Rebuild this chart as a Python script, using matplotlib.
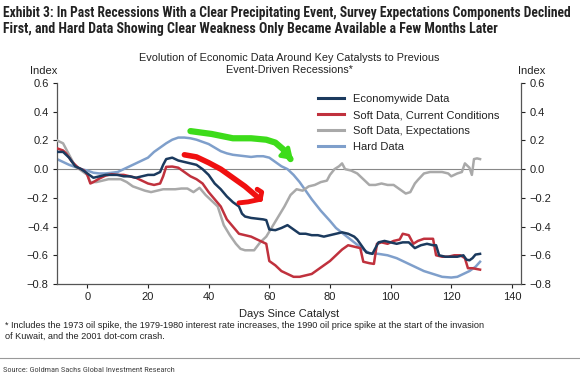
import matplotlib
matplotlib.use("Agg")
import matplotlib.pyplot as plt
from matplotlib import font_manager as fm

names = {f.name for f in fm.fontManager.ttflist}
NARROW = 'DejaVu Sans'
for cand in ['Liberation Sans Narrow', 'Roboto Condensed', 'Open Sans Condensed', 'Noto Sans Condensed']:
    if cand in names:
        NARROW = cand
        break
plt.rcParams['font.family'] = ['Liberation Sans', 'DejaVu Sans']

# ---------------- data ----------------
econ_days = [-10, -8, -6, -4, -2, 0, 2, 4, 6, 8, 10, 12, 14, 16, 18, 20, 22, 24, 25, 26, 28, 30, 32, 34, 36, 38,
             40, 42, 44, 46, 48, 50, 51, 52, 54, 56, 58, 59, 60, 62, 64, 66, 68, 70, 72, 74, 76, 78, 80, 82, 84,
             86, 88, 89, 90, 92, 94, 95, 96, 98, 100, 102, 104, 106, 108, 110, 112, 114, 115, 116, 118, 120, 122,
             124, 125, 126, 127, 128, 129.5]
econ_vals = [0.12, 0.12, 0.08, 0.02, 0.0, -0.03, -0.06, -0.05, -0.04, -0.04, -0.04, -0.05, -0.05, -0.06, -0.05,
             -0.04, -0.04, -0.02, 0.03, 0.07, 0.08, 0.06, 0.05, 0.04, 0.03, 0.0, -0.04, -0.10, -0.14, -0.19, -0.23,
             -0.26, -0.31, -0.33, -0.34, -0.345, -0.35, -0.355, -0.42, -0.425, -0.41, -0.39, -0.42, -0.45, -0.45,
             -0.46, -0.46, -0.47, -0.46, -0.45, -0.44, -0.45, -0.47, -0.49, -0.52, -0.58, -0.59, -0.55, -0.51,
             -0.50, -0.51, -0.52, -0.51, -0.51, -0.55, -0.53, -0.52, -0.53, -0.53, -0.60, -0.61, -0.61, -0.61,
             -0.60, -0.63, -0.635, -0.62, -0.595, -0.59]

cur_days = [-10, -8, -7, -5, -3, -1, 0, 1, 2, 4, 6, 8, 10, 12, 14, 16, 18, 20, 22, 24, 25, 26, 28, 30, 32, 34, 36,
            38, 40, 42, 44, 46, 48, 50, 52, 54, 56, 58, 59, 60, 62, 64, 66, 68, 70, 72, 74, 76, 78, 80, 82, 84, 86,
            88, 90, 91, 93, 94.5, 95.5, 97, 99, 101, 103, 104, 106, 107.5, 109, 111, 114, 115, 117, 119, 121, 123,
            124.5, 125.5, 127, 129.5]
cur_vals = [0.145, 0.13, 0.11, 0.05, 0.01, -0.01, -0.04, -0.10, -0.09, -0.065, -0.045, -0.035, -0.04, -0.04,
            -0.05, -0.06, -0.08, -0.10, -0.11, -0.10, -0.05, 0.016, 0.018, 0.01, -0.02, -0.05, -0.07, -0.10,
            -0.16, -0.21, -0.26, -0.35, -0.40, -0.45, -0.46, -0.47, -0.49, -0.51, -0.52, -0.64, -0.67, -0.71,
            -0.73, -0.75, -0.75, -0.74, -0.73, -0.70, -0.67, -0.64, -0.60, -0.56, -0.53, -0.54, -0.55, -0.645,
            -0.655, -0.66, -0.52, -0.51, -0.52, -0.50, -0.49, -0.45, -0.46, -0.52, -0.50, -0.485, -0.485, -0.60,
            -0.61, -0.61, -0.60, -0.60, -0.62, -0.69, -0.69, -0.70]

exp_days = [-10, -9, -8, -6, -4, -2, 0, 1, 3, 5, 7, 9, 11, 13, 15, 17, 19, 21, 23, 25, 27, 29, 31, 33, 35, 37, 39,
            41, 43, 45, 47, 49, 50.5, 52, 55, 57, 59, 61, 63, 65, 67, 69, 71, 73, 75, 77, 79, 80, 81.5, 83, 84, 85,
            87, 89, 91, 93, 95, 97, 99, 101, 103, 105, 106.5, 108, 109, 111, 113, 115, 117, 119, 120, 122, 123.5,
            124.5, 126, 126.8, 127.5, 128.5, 129.5]
exp_vals = [0.20, 0.19, 0.18, 0.10, 0.02, -0.01, -0.04, -0.09, -0.09, -0.08, -0.07, -0.07, -0.07, -0.09, -0.12,
            -0.135, -0.15, -0.16, -0.15, -0.14, -0.14, -0.14, -0.135, -0.135, -0.16, -0.13, -0.18, -0.22, -0.26,
            -0.39, -0.46, -0.52, -0.555, -0.565, -0.565, -0.51, -0.47, -0.40, -0.33, -0.26, -0.18, -0.14, -0.15,
            -0.12, -0.11, -0.09, -0.08, -0.04, 0.0, 0.02, 0.04, 0.0, -0.01, -0.03, -0.07, -0.11, -0.11, -0.10,
            -0.11, -0.11, -0.14, -0.17, -0.16, -0.10, -0.075, -0.03, -0.02, -0.02, -0.02, -0.03, -0.05, -0.03,
            -0.02, 0.04, 0.01, -0.04, 0.07, 0.075, 0.07]

hard_days = [-10, -8, -6, -4, -2, 0, 2, 4, 6, 8, 10, 12, 14, 16, 18, 20, 22, 24, 26, 28, 30, 32, 34, 36, 38, 40,
             42, 44, 46, 48, 50, 52, 54, 56, 58, 60, 62, 64, 66, 68, 70, 72, 74, 77, 80, 82, 85, 88, 91, 93, 96,
             99, 102, 105, 108, 111, 114, 117, 120, 122, 124, 126, 128, 129.5]
hard_vals = [0.07, 0.05, 0.03, 0.015, 0.0, -0.01, -0.025, -0.03, -0.03, -0.025, -0.02, 0.0, 0.02, 0.04, 0.06,
             0.08, 0.12, 0.15, 0.18, 0.205, 0.22, 0.22, 0.215, 0.205, 0.19, 0.175, 0.15, 0.125, 0.11, 0.10, 0.095,
             0.09, 0.085, 0.09, 0.09, 0.08, 0.05, 0.02, 0.0, -0.04, -0.09, -0.15, -0.21, -0.29, -0.36, -0.41,
             -0.46, -0.51, -0.56, -0.585, -0.59, -0.60, -0.62, -0.65, -0.68, -0.71, -0.73, -0.75, -0.755, -0.75,
             -0.73, -0.71, -0.68, -0.645]

series_labels = ['Economywide Data', 'Soft Data, Current Conditions', 'Soft Data, Expectations', 'Hard Data']
series_colors = ['#1b3a5e', '#c0313d', '#a9a9a9', '#7f9fcb']

y_ticks = [0.6, 0.4, 0.2, 0.0, -0.2, -0.4, -0.6, -0.8]
x_ticks = [0, 20, 40, 60, 80, 100, 120, 140]

# hand-drawn annotation strokes (data coordinates)
green_x = [34, 41, 48, 54, 59, 62, 64.5, 67]
green_y = [0.265, 0.245, 0.215, 0.215, 0.205, 0.185, 0.14, 0.07]
red_x = [32, 36, 40, 44, 48, 52, 57]
red_y = [0.10, 0.085, 0.045, 0.0, -0.06, -0.12, -0.21]

# ---------------- figure ----------------
W, H = 580, 379
fig = plt.figure(figsize=(W / 100, H / 100), dpi=100)
L, R, T, B = 57, 521, 83, 284
ax = fig.add_axes([L / W, 1 - B / H, (R - L) / W, (B - T) / H])

ax.axhline(0, color='#888888', lw=0.8, zorder=1)
ax.plot(hard_days, hard_vals, color=series_colors[3], lw=1.8, zorder=2)
ax.plot(exp_days, exp_vals, color=series_colors[2], lw=1.8, zorder=3)
ax.plot(cur_days, cur_vals, color=series_colors[1], lw=1.8, zorder=4)
ax.plot(econ_days, econ_vals, color=series_colors[0], lw=1.8, zorder=5)

# annotations
ax.plot(green_x, green_y, color='#3ddc1a', lw=4.5, solid_capstyle='round', zorder=6)
ax.annotate('', xy=(68.5, 0.05), xytext=(64.5, 0.13),
            arrowprops=dict(arrowstyle='-|>,head_length=0.6,head_width=0.4', color='#3ddc1a', lw=3), zorder=6)
ax.plot(red_x, red_y, color='#f01010', lw=4, solid_capstyle='round', zorder=6)
ax.plot([56, 57.5, 57], [-0.14, -0.16, -0.21], color='#f01010', lw=3.5, solid_capstyle='round', zorder=6)
ax.plot([50, 53, 57], [-0.235, -0.228, -0.21], color='#f01010', lw=3.5, solid_capstyle='round', zorder=6)

ax.set_xlim(-10, 143)
ax.set_ylim(-0.8, 0.6)
ax.set_xticks(x_ticks)
ax.set_yticks(y_ticks)
ax.set_yticklabels([f'{v:.1f}'.replace('-', '\u2212') if v != 0 else '0.0' for v in y_ticks])
ax.tick_params(axis='both', labelsize=8, colors='#222222', length=3, width=0.8, pad=3)
ax.tick_params(axis='y', right=True, labelright=True, direction='out')
for s in ['left', 'right', 'bottom']:
    ax.spines[s].set_color('#555555')
    ax.spines[s].set_linewidth(0.9)
ax.spines['top'].set_visible(False)
ax.set_xlabel('Days Since Catalyst', fontsize=8, labelpad=5, color='#222222')

handles = [plt.Line2D([], [], color=c, lw=2.2) for c in series_colors]
leg = ax.legend(handles, series_labels, loc='upper left', bbox_to_anchor=((318 - L) / (R - L), (B - 94) / (B - T)),
                frameon=False, fontsize=8, handlelength=2.3, handletextpad=0.85, labelspacing=0.55,
                borderaxespad=0, borderpad=0)
for t in leg.get_texts():
    t.set_color('#222222')

# text
renderer = fig.canvas.get_renderer()


def fit_text(x, y, s, target_w, size, **kw):
    t = fig.text(x / W, 1 - y / H, s, fontsize=size, **kw)
    w = t.get_window_extent(renderer).width
    if w > 0:
        t.set_fontsize(size * target_w / w)
    return t


fit_text(3, 6, 'Exhibit 3: In Past Recessions With a Clear Precipitating Event, Survey Expectations Components Declined',
         572, 10.5, fontweight='bold', family=NARROW, fontstretch='condensed', va='top', ha='left', color='#222222')
fit_text(3, 22, 'First, and Hard Data Showing Clear Weakness Only Became Available a Few Months Later',
         496, 10.5, fontweight='bold', family=NARROW, fontstretch='condensed', va='top', ha='left', color='#222222')
fig.text(289 / W, 1 - 53 / H, 'Evolution of Economic Data Around Key Catalysts to Previous\nEvent-Driven Recessions*',
         fontsize=7.8, ha='center', va='top', color='#222222', linespacing=1.3)
fig.text(44 / W, 1 - 66 / H, 'Index', fontsize=8, ha='center', va='top', color='#222222')
fig.text(532 / W, 1 - 66 / H, 'Index', fontsize=8, ha='center', va='top', color='#222222')
fig.text(5 / W, 1 - 321 / H, '* Includes the 1973 oil spike, the 1979-1980 interest rate increases, the 1990 oil price spike at the start of the invasion\n'
         'of Kuwait, and the 2001 dot-com crash.', fontsize=6.6, ha='left', va='top', color='#222222', linespacing=1.3)
fig.add_artist(plt.Line2D([0, 1], [1 - 358 / H, 1 - 358 / H], transform=fig.transFigure, color='#999999', lw=0.8))
fit_text(3, 367, 'Source: Goldman Sachs Global Investment Research', 175, 7, family=NARROW, fontstretch='condensed',
         ha='left', va='top', color='#444444')

fig.savefig('out.png', dpi=100)
